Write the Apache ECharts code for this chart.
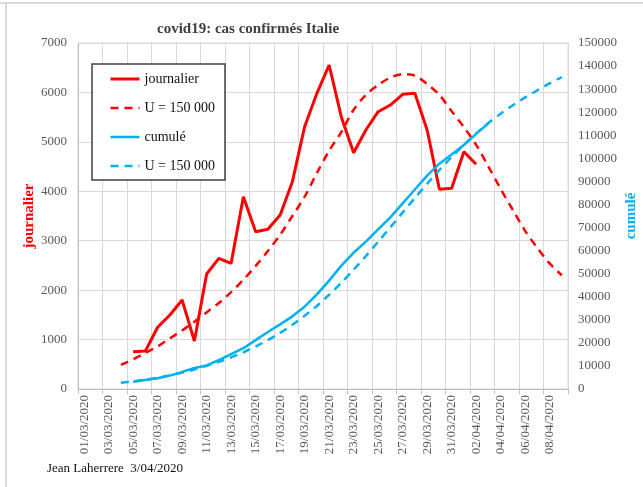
<!DOCTYPE html>
<html>
<head>
<meta charset="utf-8">
<title>covid19: cas confirmés Italie</title>
<script src="https://cdn.jsdelivr.net/npm/echarts@6.0.0/dist/echarts.min.js"></script>
<style>
  html, body { margin: 0; padding: 0; background: #fff; }
  #chart { width: 643px; height: 487px; }
</style>
</head>
<body>
<div id="chart"></div>
<script>
// dates 01/03/2020 -> 09/04/2020
var categories = [
  '01/03/2020', '02/03/2020', '03/03/2020', '04/03/2020', '05/03/2020', '06/03/2020', '07/03/2020', '08/03/2020',
  '09/03/2020', '10/03/2020', '11/03/2020', '12/03/2020', '13/03/2020', '14/03/2020', '15/03/2020', '16/03/2020',
  '17/03/2020', '18/03/2020', '19/03/2020', '20/03/2020', '21/03/2020', '22/03/2020', '23/03/2020', '24/03/2020',
  '25/03/2020', '26/03/2020', '27/03/2020', '28/03/2020', '29/03/2020', '30/03/2020', '31/03/2020', '01/04/2020',
  '02/04/2020', '03/04/2020', '04/04/2020', '05/04/2020', '06/04/2020', '07/04/2020', '08/04/2020', '09/04/2020'
]

// journalier : du 05/03 au 02/04
var dailyStart = 4
var daily = [755, 769, 1248, 1497, 1800, 971, 2326, 2644, 2543, 3890, 3183, 3231, 3520, 4194, 5307,
  5982, 6555, 5500, 4780, 5240, 5610, 5745, 5962, 5982, 5240, 4040, 4060, 4800, 4546]

// modèle journalier U = 150 000 : du 04/03 au 09/04
var dailyModelStart = 3
var dailyModel = [486, 600, 730, 860, 1025, 1185, 1360, 1550, 1740, 1960, 2210, 2490, 2790, 3120, 3500,
  3890, 4370, 4820, 5200, 5650, 5950, 6150, 6300, 6370, 6340, 6170, 5950, 5620, 5300, 4940, 4500,
  4050, 3620, 3200, 2850, 2540, 2300]

// cumulé : du 05/03 au 03/04
var cumStart = 4
var cum = [3100, 3900, 4650, 5800, 7400, 9100, 10200, 12500, 15100, 17700, 21200, 24700, 28000, 31500,
  35700, 41000, 47000, 53500, 59100, 63900, 69200, 74400, 80500, 86500, 92500, 97700, 101700,
  105800, 110600, 115200]

// modèle cumulé U = 150 000 : du 04/03 au 09/04
var cumModelStart = 3
var cumModel = [2700, 3300, 4030, 4890, 5915, 7100, 8460, 10010, 11750, 13710, 15920, 18410, 21200,
  24320, 27820, 31710, 36010, 40860, 46060, 51710, 57660, 63810, 70110, 76480, 82820, 88990,
  94940, 100560, 105860, 110800, 115300, 119350, 123000, 126400, 129500, 132500, 135200]

var dailyTicks = { min: 0, max: 7000, interval: 1000 }
var cumTicks = { min: 0, max: 150000, interval: 10000 }

var serif = 'Liberation Serif, serif'
var red = '#FF0000'
var blue = '#00B0F0'
var nameDaily = 'journalier'
var nameDailyModel = 'U = 150 000'
var nameCum = 'cumulé'
var nameCumModel = 'U = 150\u00a0000' // même texte, espace insécable pour une 2e entrée de légende

// place une série sur l'axe des dates
function onDates(start, values) {
  var out = []
  for (var i = 0; i < categories.length; i++) {
    var k = i - start
    out.push(k >= 0 && k < values.length ? values[k] : null)
  }
  return out
}

// nombres sans séparateur de milliers
function plain(v) {
  return String(v)
}

var chart = echarts.init(document.getElementById('chart'))
chart.setOption({
  animation: false,
  backgroundColor: '#fff',
  title: {
    text: 'covid19: cas confirmés Italie',
    left: 152,
    top: 17,
    textStyle: { fontFamily: serif, fontSize: 15, fontWeight: 'bold', color: '#404040' }
  },
  grid: {
    left: 78,
    right: 75,
    top: 43,
    bottom: 98,
    outerBoundsMode: 'none',
    show: true,
    borderColor: '#D9D9D9',
    borderWidth: 1
  },
  legend: {
    orient: 'vertical',
    left: 92,
    top: 64,
    itemWidth: 29,
    itemHeight: 14,
    itemGap: 15,
    padding: [8, 10, 7, 17],
    borderColor: '#404040',
    borderWidth: 1.5,
    backgroundColor: '#fff',
    itemStyle: { opacity: 0 }, // pas de marqueur, seulement le trait
    textStyle: { fontFamily: serif, fontSize: 14, color: '#111' },
    data: [
      { name: nameDaily, lineStyle: { width: 3 } },
      { name: nameDailyModel, lineStyle: { width: 2.5 } },
      { name: nameCum, lineStyle: { width: 2.5 } },
      { name: nameCumModel, lineStyle: { width: 2.5 } }
    ]
  },
  xAxis: {
    type: 'category',
    data: categories,
    boundaryGap: true,
    axisLine: { lineStyle: { color: '#BFBFBF' } },
    axisTick: { show: true, interval: 1, length: 5, lineStyle: { color: '#BFBFBF' } },
    axisLabel: { interval: 1, rotate: 90, margin: 6, fontFamily: serif, fontSize: 13, color: '#595959' },
    splitLine: { show: true, interval: 1, lineStyle: { color: '#D9D9D9' } }
  },
  yAxis: [
    {
      type: 'value',
      position: 'left',
      min: dailyTicks.min,
      max: dailyTicks.max,
      interval: dailyTicks.interval,
      name: 'journalier',
      nameLocation: 'middle',
      nameRotate: 90,
      nameGap: 41,
      nameMoveOverlap: false,
      nameTextStyle: { fontFamily: serif, fontSize: 15, fontWeight: 'bold', color: red },
      axisLine: { show: true, lineStyle: { color: '#BFBFBF' } },
      axisTick: { show: false },
      axisLabel: { margin: 11, fontFamily: serif, fontSize: 13, color: '#595959', formatter: plain },
      splitLine: { show: true, lineStyle: { color: '#D9D9D9' } }
    },
    {
      type: 'value',
      position: 'right',
      min: cumTicks.min,
      max: cumTicks.max,
      interval: cumTicks.interval,
      name: 'cumulé',
      nameLocation: 'middle',
      nameRotate: 90,
      nameGap: 56,
      nameMoveOverlap: false,
      nameTextStyle: { fontFamily: serif, fontSize: 15, fontWeight: 'bold', color: blue },
      axisLine: { show: false },
      axisTick: { show: false },
      axisLabel: { margin: 10, fontFamily: serif, fontSize: 13, color: '#595959', formatter: plain },
      splitLine: { show: false }
    }
  ],
  series: [
    {
      name: nameDaily,
      type: 'line',
      yAxisIndex: 0,
      symbol: 'none',
      data: onDates(dailyStart, daily),
      lineStyle: { color: red, width: 3 },
      itemStyle: { color: red }
    },
    {
      name: nameDailyModel,
      type: 'line',
      yAxisIndex: 0,
      symbol: 'none',
      smooth: 0.3,
      data: onDates(dailyModelStart, dailyModel),
      lineStyle: { color: red, width: 2.5, type: [8, 6] },
      itemStyle: { color: red }
    },
    {
      name: nameCum,
      type: 'line',
      yAxisIndex: 1,
      symbol: 'none',
      data: onDates(cumStart, cum),
      lineStyle: { color: blue, width: 2.5 },
      itemStyle: { color: blue }
    },
    {
      name: nameCumModel,
      type: 'line',
      yAxisIndex: 1,
      symbol: 'none',
      smooth: 0.3,
      data: onDates(cumModelStart, cumModel),
      lineStyle: { color: blue, width: 2.5, type: [8, 6] },
      itemStyle: { color: blue }
    }
  ],
  graphic: [
    // cadre du graphique
    { type: 'line', shape: { x1: 0, y1: 3, x2: 643, y2: 3 }, style: { stroke: '#D9D9D9', lineWidth: 2 }, silent: true },
    { type: 'line', shape: { x1: 6, y1: 3, x2: 6, y2: 487 }, style: { stroke: '#D9D9D9', lineWidth: 2 }, silent: true },
    {
      type: 'text',
      left: 47,
      top: 462,
      style: { text: 'Jean Laherrere  3/04/2020', fontFamily: serif, fontSize: 13, fill: '#111' }
    }
  ]
})
</script>
</body>
</html>
